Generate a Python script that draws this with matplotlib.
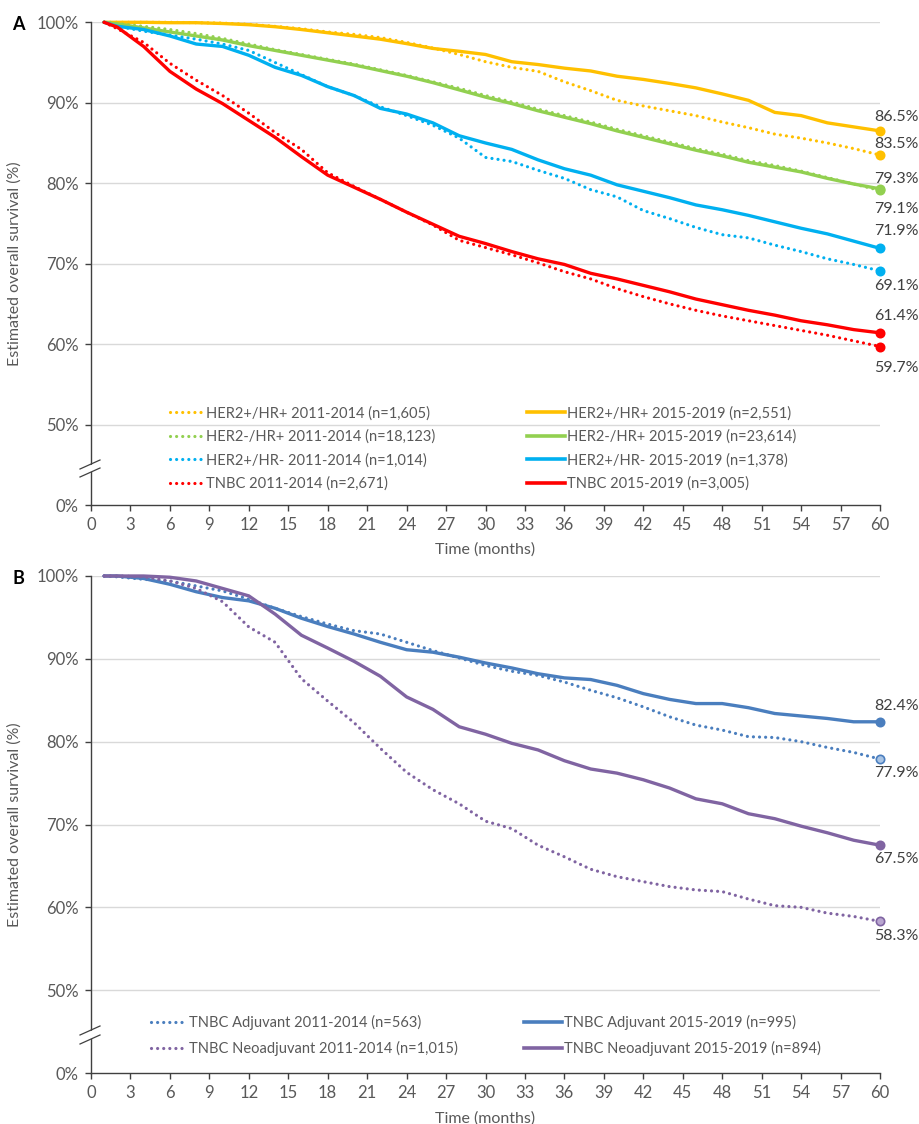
import matplotlib
matplotlib.use("Agg")
import matplotlib.pyplot as plt
from matplotlib.lines import Line2D
from matplotlib.patches import Polygon

plt.rcParams['font.family'] = ['Lato', 'DejaVu Sans']

# ---------------- data ----------------
months = [1, 2, 4, 6, 8, 10, 12, 14, 16, 18, 20, 22, 24, 26, 28, 30,
          32, 34, 36, 38, 40, 42, 44, 46, 48, 50, 52, 54, 56, 58, 60]

# Panel A
her2p_hrp_2011 = [100, 100, 100, 100, 99.95, 99.9, 99.75, 99.5, 99.2, 98.8, 98.5, 98.1, 97.5, 96.8, 96.0, 95.1,
                  94.4, 93.9, 92.6, 91.5, 90.3, 89.6, 89.0, 88.4, 87.6, 86.9, 86.1, 85.6, 85.0, 84.3, 83.5]
her2p_hrp_2015 = [100, 100, 100, 99.95, 99.95, 99.85, 99.7, 99.45, 99.1, 98.7, 98.3, 97.9, 97.35, 96.75, 96.4, 96.0,
                  95.1, 94.75, 94.3, 93.95, 93.3, 92.9, 92.4, 91.85, 91.1, 90.3, 88.8, 88.4, 87.5, 87.0, 86.5]
her2n_hrp_2011 = [100, 99.85, 99.5, 99.1, 98.6, 98.0, 97.3, 96.6, 96.0, 95.4, 94.8, 94.1, 93.4, 92.6, 91.8, 90.9,
                  90.1, 89.2, 88.4, 87.6, 86.7, 85.9, 85.1, 84.3, 83.6, 82.8, 82.2, 81.5, 80.7, 79.9, 79.1]
her2n_hrp_2015 = [100, 99.8, 99.3, 98.8, 98.3, 97.8, 97.1, 96.5, 95.9, 95.3, 94.7, 94.0, 93.3, 92.5, 91.6, 90.7,
                  89.9, 89.0, 88.2, 87.4, 86.5, 85.7, 84.9, 84.1, 83.4, 82.6, 82.0, 81.4, 80.6, 79.9, 79.3]
her2p_hrn_2011 = [100, 99.5, 98.9, 98.4, 97.9, 97.3, 96.5, 95.0, 93.5, 92.0, 90.9, 89.5, 88.4, 87.2, 85.6, 83.2,
                  82.7, 81.6, 80.6, 79.2, 78.3, 76.6, 75.6, 74.5, 73.6, 73.2, 72.3, 71.5, 70.6, 69.9, 69.1]
her2p_hrn_2015 = [100, 99.5, 99.1, 98.3, 97.3, 97.0, 95.9, 94.4, 93.4, 92.0, 90.9, 89.3, 88.6, 87.5, 85.9, 85.0,
                  84.2, 82.9, 81.8, 81.0, 79.8, 79.0, 78.2, 77.3, 76.7, 76.0, 75.2, 74.4, 73.7, 72.8, 71.9]
tnbc_2011 = [100, 99.2, 97.5, 94.9, 92.8, 90.9, 88.7, 86.3, 84.2, 81.3, 79.6, 78.0, 76.4, 74.8, 72.9, 72.0,
             71.1, 70.1, 69.0, 68.1, 66.9, 65.9, 65.0, 64.2, 63.5, 62.9, 62.3, 61.7, 61.1, 60.4, 59.7]
tnbc_2015 = [100, 99.4, 97.0, 93.9, 91.7, 89.9, 87.8, 85.7, 83.3, 81.0, 79.5, 78.0, 76.4, 74.9, 73.4, 72.5,
             71.5, 70.6, 69.9, 68.8, 68.1, 67.3, 66.5, 65.6, 64.9, 64.2, 63.6, 62.9, 62.4, 61.8, 61.4]

# Panel B
adj_2011 = [100, 99.9, 99.6, 99.4, 98.8, 98.2, 97.2, 96.1, 95.1, 94.2, 93.4, 93.0, 92.0, 91.0, 90.1, 89.2,
            88.5, 88.0, 87.2, 86.2, 85.3, 84.2, 83.0, 82.0, 81.4, 80.6, 80.5, 80.0, 79.3, 78.7, 77.9]
adj_2015 = [100, 100, 99.7, 99.0, 98.1, 97.4, 97.0, 96.1, 94.9, 93.9, 93.0, 92.0, 91.1, 90.8, 90.2, 89.5,
            88.9, 88.2, 87.7, 87.5, 86.8, 85.8, 85.1, 84.6, 84.6, 84.1, 83.4, 83.1, 82.8, 82.4, 82.4]
neo_2011 = [100, 100, 99.9, 99.4, 98.5, 96.9, 93.85, 92.0, 87.6, 84.9, 82.3, 79.2, 76.3, 74.2, 72.5, 70.4,
            69.5, 67.5, 66.1, 64.6, 63.7, 63.1, 62.5, 62.1, 61.9, 61.0, 60.2, 60.0, 59.3, 58.9, 58.3]
neo_2015 = [100, 100, 100, 99.85, 99.4, 98.5, 97.6, 95.4, 92.85, 91.3, 89.7, 87.9, 85.4, 83.9, 81.8, 80.9,
            79.8, 79.0, 77.7, 76.7, 76.2, 75.4, 74.4, 73.1, 72.5, 71.3, 70.7, 69.8, 69.0, 68.1, 67.5]

labels_A_dotted = ["HER2+/HR+ 2011-2014 (n=1,605)", "HER2-/HR+ 2011-2014 (n=18,123)",
                   "HER2+/HR- 2011-2014 (n=1,014)", "TNBC 2011-2014 (n=2,671)"]
labels_A_solid = ["HER2+/HR+ 2015-2019 (n=2,551)", "HER2-/HR+ 2015-2019 (n=23,614)",
                  "HER2+/HR- 2015-2019 (n=1,378)", "TNBC 2015-2019 (n=3,005)"]
labels_B_dotted = ["TNBC Adjuvant 2011-2014 (n=563)", "TNBC Neoadjuvant 2011-2014 (n=1,015)"]
labels_B_solid = ["TNBC Adjuvant 2015-2019 (n=995)", "TNBC Neoadjuvant 2015-2019 (n=894)"]

end_labels_A = ["83.5%", "79.1%", "69.1%", "59.7%", "86.5%", "79.3%", "71.9%", "61.4%"]
end_labels_B = ["77.9%", "58.3%", "82.4%", "67.5%"]

x_ticks = list(range(0, 61, 3))
y_ticks = [40, 50, 60, 70, 80, 90, 100]
y_tick_labels = ["0%", "50%", "60%", "70%", "80%", "90%", "100%"]

# ---------------- styling ----------------
colA = ["#FFC000", "#92D050", "#00B0F0", "#FF0000"]
colB = ["#4A7EBE", "#8064A2"]
colB_light = ["#A9C4E4", "#B9A6D0"]
W, H = 919, 1124
TXT = "#595959"
AX = "#404040"
DOT = (0, (0.01, 1.9))

fig = plt.figure(figsize=(W / 100, H / 100), dpi=100)


def fx(px):
    return px / W


def fy(py):
    return 1 - py / H


def make_axes(top_px, bot_px):
    ax = fig.add_axes([fx(91), fy(bot_px), fx(880) - fx(91), fy(top_px) - fy(bot_px)])
    ax.set_xlim(0, 60)
    ax.set_ylim(40, 100)
    for s in ("top", "right"):
        ax.spines[s].set_visible(False)
    for s in ("left", "bottom"):
        ax.spines[s].set_color(AX)
        ax.spines[s].set_linewidth(1.0)
    ax.set_xticks(x_ticks)
    ax.set_yticks(y_ticks)
    ax.set_yticklabels(y_tick_labels)
    ax.tick_params(direction="out", length=4, width=1.0, color=AX,
                   labelcolor=TXT, labelsize=12, pad=5)
    for g in y_ticks[1:]:
        ax.axhline(g, color="#D9D9D9", lw=1.0, zorder=0)
    ax.set_xlabel("Time (months)", fontsize=11.5, color=TXT)
    ax.xaxis.set_label_coords(0.5, -0.078)
    ax.set_ylabel("Estimated overall survival (%)", fontsize=11.5, color=TXT)
    ax.yaxis.set_label_coords((22 - 91) / 789, 0.5)
    return ax


def brk(y1, y2):
    # axis break marks (two parallel slashes across the y axis)
    poly = Polygon([[fx(80), fy(y1 + 1)], [fx(100), fy(y1 - 8)], [fx(100), fy(y2 - 9)], [fx(80), fy(y2)]],
                   closed=True, transform=fig.transFigure, facecolor="white", edgecolor="none", zorder=5)
    fig.patches.append(poly)
    for yy in (y1, y2):
        fig.lines.append(Line2D([fx(80), fx(100)], [fy(yy), fy(yy - 9)], transform=fig.transFigure,
                                color=AX, lw=0.9, zorder=6))


def plot_series(ax, y, color, dotted, mfc=None):
    if dotted:
        ax.plot(months, y, color=color, lw=2.3, ls=DOT, dash_capstyle="round",
                clip_on=False, zorder=3)
    else:
        ax.plot(months, y, color=color, lw=2.4, solid_capstyle="round", clip_on=False, zorder=3)
    ax.plot([months[-1]], [y[-1]], "o", ms=6, color=color, mfc=mfc or color, mec=color,
            mew=1.2, clip_on=False, zorder=4)


def end_label(ax, val, text, dy_px):
    ax.annotate(text, xy=(60, val), xytext=(-6 * 0.72, -dy_px * 0.72), textcoords="offset points",
                ha="left", va="center", fontsize=11.5, color="#404040", annotation_clip=False)


def dot_handle(c):
    return Line2D([], [], color=c, lw=2.3, ls=DOT, dash_capstyle="round")


# ---------------- Panel A ----------------
axA = make_axes(22.3, 505)
dottedA = [her2p_hrp_2011, her2n_hrp_2011, her2p_hrn_2011, tnbc_2011]
solidA = [her2p_hrp_2015, her2n_hrp_2015, her2p_hrn_2015, tnbc_2015]
hd, hs = [], []
for c, yd, ys in zip(colA, dottedA, solidA):
    plot_series(axA, yd, c, True)
    plot_series(axA, ys, c, False)
    hd.append(dot_handle(c))
    hs.append(Line2D([], [], color=c, lw=2.6))

dyA = [-11, 19, 15, 21, -14, -10, -17, -17]
for v, t, d in zip([s[-1] for s in dottedA + solidA], end_labels_A, dyA):
    end_label(axA, v, t, d)

legA1 = axA.legend(hd, labels_A_dotted, loc="center left", bbox_to_anchor=((170 - 91) / 789, (505 - 448.5) / 482.7),
                   frameon=False, borderpad=0, borderaxespad=0, handlelength=2.1, handletextpad=0.4,
                   labelspacing=0.62, fontsize=10.5, labelcolor=TXT)
axA.add_artist(legA1)
axA.legend(hs, labels_A_solid, loc="center left", bbox_to_anchor=((527 - 91) / 789, (505 - 448.5) / 482.7),
           frameon=False, borderpad=0, borderaxespad=0, handlelength=2.6, handletextpad=0.15,
           labelspacing=0.62, fontsize=10.5, labelcolor=TXT)

fig.text(fx(18), fy(25), "A", fontsize=13, fontweight="bold", ha="center", va="center", color="black")
brk(469, 477)

# ---------------- Panel B ----------------
axB = make_axes(576, 1073)
dottedB = [adj_2011, neo_2011]
solidB = [adj_2015, neo_2015]
hd, hs = [], []
for c, cl, yd, ys in zip(colB, colB_light, dottedB, solidB):
    plot_series(axB, yd, c, True, mfc=cl)
    plot_series(axB, ys, c, False)
    hd.append(dot_handle(c))
    hs.append(Line2D([], [], color=c, lw=2.6))

dyB = [14, 15, -16, 14]
for v, t, d in zip([s[-1] for s in dottedB + solidB], end_labels_B, dyB):
    end_label(axB, v, t, d)

legB1 = axB.legend(hd, labels_B_dotted, loc="center left", bbox_to_anchor=((150.7 - 91) / 789, (1073 - 1035.5) / 497),
                   frameon=False, borderpad=0, borderaxespad=0, handlelength=2.2, handletextpad=0.4,
                   labelspacing=0.72, fontsize=10.5, labelcolor=TXT)
axB.add_artist(legB1)
axB.legend(hs, labels_B_solid, loc="center left", bbox_to_anchor=((524 - 91) / 789, (1073 - 1035.5) / 497),
           frameon=False, borderpad=0, borderaxespad=0, handlelength=2.6, handletextpad=0.15,
           labelspacing=0.72, fontsize=10.5, labelcolor=TXT)

fig.text(fx(18), fy(579), "B", fontsize=13, fontweight="bold", ha="center", va="center", color="black")
brk(1035, 1044)

fig.savefig("out.png", dpi=100)
